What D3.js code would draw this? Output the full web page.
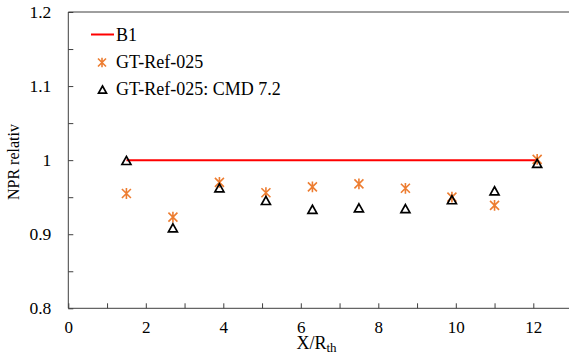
<!DOCTYPE html>
<html><head><meta charset="utf-8">
<script src="https://cdn.jsdelivr.net/npm/d3@7"></script>
<style>body{margin:0;background:#fff}svg{display:block}
text{font-family:"Liberation Serif","Times New Roman",Times,serif !important;}</style>
</head><body>
<script>
const xGT = [1.5, 2.7, 3.9, 5.1, 6.3, 7.5, 8.7, 9.9, 11.0, 12.1];
const yGT = [0.955, 0.923, 0.970, 0.956, 0.964, 0.968, 0.962, 0.950, 0.939, 1.001];
const xCMD = [1.5, 2.7, 3.9, 5.1, 6.3, 7.5, 8.7, 9.9, 11.0, 12.1];
const yCMD = [0.999, 0.908, 0.962, 0.945, 0.933, 0.935, 0.934, 0.946, 0.958, 0.995];
const xB1 = [1.5, 12.1];
const yB1 = [1.0, 1.0];
const xTicks = [0, 2, 4, 6, 8, 10, 12];
const yTicks = [0.8, 0.9, 1.0, 1.1, 1.2];
const legendLabels = ["B1", "GT-Ref-025", "GT-Ref-025: CMD 7.2"];

const W = 569, H = 356;
const svg = d3.select("body").append("svg").attr("width", W).attr("height", H);
const x = d3.scaleLinear().domain([0, 13]).range([68.3, 68.3 + 13 * 38.75]);
const y = d3.scaleLinear().domain([0.8, 1.2]).range([308.3, 12]);
const axisCol = "#3f3f3f";

svg.append("line").attr("x1", x(0)).attr("x2", W).attr("y1", y(0.8)).attr("y2", y(0.8)).attr("stroke", axisCol).attr("stroke-width", 1);
svg.append("line").attr("x1", x(0)).attr("x2", x(0)).attr("y1", y(0.8)).attr("y2", y(1.2)).attr("stroke", axisCol).attr("stroke-width", 1);
svg.append("line").attr("x1", x(0)).attr("x2", W).attr("y1", y(1.2)).attr("y2", y(1.2)).attr("stroke", axisCol).attr("stroke-width", 1);

const xAxis = d3.axisBottom(x).tickValues(d3.range(0, 14, 1)).tickSizeInner(-5).tickSizeOuter(0)
  .tickFormat(d => xTicks.includes(d) ? d : "");
const gx = svg.append("g").attr("transform", `translate(0,${y(0.8)})`).call(xAxis);
gx.select(".domain").remove();
gx.selectAll("line").attr("stroke", axisCol);
gx.selectAll("text").attr("font-size", 17).attr("fill", "#000").attr("y", 24.5).attr("dy", 0);

const yAxis = d3.axisLeft(y).tickValues(d3.range(0.8, 1.2001, 0.05)).tickSizeInner(-5).tickSizeOuter(0)
  .tickFormat(d => { const r = Math.round(d * 100) / 100; return yTicks.some(t => Math.abs(t - r) < 1e-6) ? (r === 1 ? "1" : r.toFixed(1)) : ""; });
const gy = svg.append("g").attr("transform", `translate(${x(0)},0)`).call(yAxis);
gy.select(".domain").remove();
gy.selectAll("line").attr("stroke", axisCol);
gy.selectAll("text").attr("font-size", 17.5).attr("fill", "#000").attr("x", -17);

svg.append("text").attr("x", 316.5).attr("y", 348.5).attr("text-anchor", "middle").attr("font-size", 18)
  .html('X/R<tspan font-size="13" dy="3.5">th</tspan>');
svg.append("text").attr("transform", "translate(19,162) rotate(-90)").attr("text-anchor", "middle").attr("font-size", 16).text("NPR relativ");

svg.append("line").attr("x1", x(xB1[0])).attr("x2", x(xB1[1])).attr("y1", y(yB1[0])).attr("y2", y(yB1[1])).attr("stroke", "#ff0000").attr("stroke-width", 2);

function asterisk(g, cx, cy, s) {
  const p = `M${cx - s},${cy - s}L${cx + s},${cy + s}M${cx - s},${cy + s}L${cx + s},${cy - s}M${cx},${cy - s * 1.2}L${cx},${cy + s * 1.2}`;
  g.append("path").attr("d", p).attr("stroke", "#ED7D31").attr("stroke-width", 1.6).attr("fill", "none");
}
function triangle(g, cx, cy, s) {
  const p = `M${cx},${cy - s}L${cx + s},${cy + s * 0.8}L${cx - s},${cy + s * 0.8}Z`;
  g.append("path").attr("d", p).attr("stroke", "#000").attr("stroke-width", 1.7).attr("fill", "none");
}

const gm = svg.append("g");
xGT.forEach((d, i) => asterisk(gm, x(d), y(yGT[i]), 4.5));
xCMD.forEach((d, i) => triangle(gm, x(d), y(yCMD[i]), 4.5));

const lg = svg.append("g");
lg.append("line").attr("x1", 91).attr("x2", 114).attr("y1", 34.5).attr("y2", 34.5).attr("stroke", "#ff0000").attr("stroke-width", 2);
asterisk(lg, 102, 62.5, 4);
triangle(lg, 102.5, 90, 4);
[40.5, 68, 94.5].forEach((yy, i) => {
  lg.append("text").attr("x", 116).attr("y", yy).attr("font-size", 18).text(legendLabels[i]);
});
</script>
</body></html>
